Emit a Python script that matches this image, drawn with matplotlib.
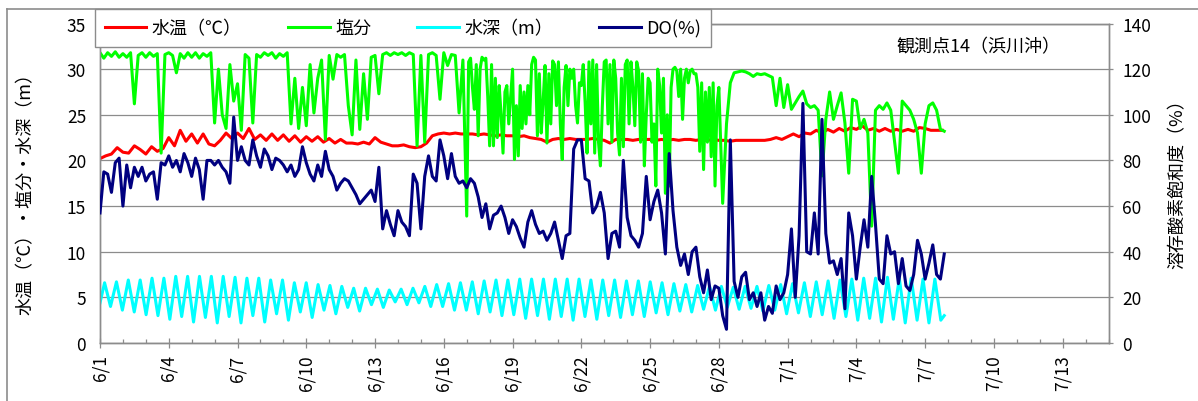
import numpy as np
import matplotlib
matplotlib.use("Agg")
import matplotlib.pyplot as plt
from matplotlib.lines import Line2D

plt.rcParams['font.family'] = ['Noto Sans CJK JP', 'DejaVu Sans']

# ---------------- data ----------------
# x axis: days since 6/1 (0 = 6/1 00:00)
tick_days = [0, 3, 6, 9, 12, 15, 18, 21, 24, 27, 30, 33, 36, 39, 42]
tick_labels = ['6/1', '6/4', '6/7', '6/10', '6/13', '6/16', '6/19', '6/22',
               '6/25', '6/28', '7/1', '7/4', '7/7', '7/10', '7/13']
x_max_day = 44

# water temperature (deg C), every 6 hours from 6/1 00:00
temp_step_h = 6
water_temp = [
    20.2, 20.5, 20.7, 21.4,  20.9, 20.8, 21.6, 21.2,  20.7, 21.5, 21.0, 21.3,
    22.5, 21.6, 23.3, 22.1,  22.9, 21.9, 22.9, 21.8,  21.6, 22.2, 23.0, 22.4,
    23.0, 22.4, 23.5, 22.3,  22.8, 22.2, 22.9, 22.2,  22.8, 22.1, 22.7, 22.0,
    22.6, 22.1, 22.6, 22.0,  22.4, 21.9, 22.3, 21.9,  21.9, 21.8, 22.0, 21.8,
    22.5, 22.0, 21.8, 21.6,  21.6, 21.7, 21.5, 21.4,  21.5, 21.9, 22.7, 22.9,
    23.0, 22.9, 23.0, 22.9,  22.9, 22.9, 22.8, 22.9,  22.8, 22.7, 22.8, 22.7,
    22.7, 22.6, 22.7, 22.5,  22.4, 22.3, 22.0, 22.3,  22.4, 22.3, 22.4, 22.3,
    22.3, 22.3, 22.4, 22.3,  22.2, 21.9, 22.3, 22.3,  22.3, 22.2, 22.3, 22.3,
    22.3, 22.2, 22.3, 22.2,  22.3, 22.2, 22.3, 22.3,  22.2, 22.3, 22.2, 22.3,
    22.2, 22.2, 22.1, 22.2,  22.2, 22.2, 22.2, 22.2,  22.2, 22.3, 22.5, 22.3,
    22.6, 22.9, 22.6, 23.0,  22.9, 23.3, 23.0, 23.4,  23.1, 23.5, 23.2, 23.6,
    23.4, 23.8, 23.3, 23.5,  23.2, 23.5, 23.2, 23.4,  23.2, 23.4, 23.2, 23.6,
    23.5, 23.3, 23.3, 23.3,
]

# salinity, part 1: every 4 hours from 6/1 00:00 (days 0-15)
sal1_start_day, sal1_step_h = 0, 4
salinity_1 = [
    31.8, 31.2, 31.8, 31.4, 31.9, 31.3,
    31.7, 31.3, 31.8, 26.2, 31.5, 31.8,
    31.3, 31.8, 31.4, 31.7, 20.8, 31.6,
    31.8, 31.5, 29.6, 31.7, 31.2, 31.8,
    31.3, 31.8, 31.2, 31.7, 31.4, 31.8,
    24.1, 30.0, 25.0, 23.5, 30.5, 26.5,
    28.4, 23.3, 31.6, 31.2, 24.1, 31.6,
    31.3, 31.8, 31.5, 31.8, 31.2, 31.7,
    31.4, 31.8, 24.0, 29.0, 23.5, 28.0,
    23.8, 30.5, 25.2, 29.0, 31.0, 22.3,
    31.5, 28.9, 31.6, 31.3, 31.6, 26.0,
    22.8, 31.0, 23.4, 29.5, 24.5, 31.3,
    31.5, 27.3, 31.6, 31.8, 31.5, 31.8,
    31.6, 31.8, 31.5, 31.8, 31.6, 21.6,
    31.5, 22.0, 31.6, 31.8, 31.5, 26.7,
    31.8, 30.4, 31.6, 31.5, 25.2, 31.0,
]
# salinity, part 2: every 2 hours from 6/17 00:00 (days 16-26, fluctuating period)
sal2_start_day, sal2_step_h = 16, 2
salinity_2 = [
    13.9, 30.8, 31.2, 28.0, 25.6, 30.5, 22.7, 30.0, 31.3, 31.0, 31.2, 27.0,
    21.6, 30.5, 21.6, 29.0, 22.5, 28.2, 25.0, 20.8, 27.5, 28.2, 24.0, 27.0,
    30.0, 20.1, 26.0, 20.5, 28.2, 23.5, 27.5, 24.0, 28.2, 25.0, 30.5, 31.3,
    31.0, 22.7, 29.5, 23.0, 26.5, 30.4, 21.9, 29.5, 24.0, 30.9, 30.5, 26.0,
    30.8, 24.0, 20.1, 28.0, 30.4, 26.0, 30.0, 29.0, 30.0, 26.0, 24.1, 28.5,
    28.2, 30.5, 26.3, 20.8, 30.8, 24.0, 31.0, 20.8, 30.5, 22.0, 19.4, 26.0,
    30.8, 31.0, 24.0, 30.5, 22.0, 31.0, 29.0, 23.0, 20.6, 29.0, 21.5, 30.5,
    31.0, 24.0, 30.8, 28.0, 23.8, 30.8, 29.8, 22.0, 29.5, 19.4, 25.0, 29.0,
    28.5, 22.0, 24.0, 17.2, 30.0, 28.2, 23.0, 29.0, 16.4, 25.0, 17.2, 28.0,
    30.0, 30.2, 29.8, 27.0, 30.0, 24.5, 29.0, 30.0, 28.5, 29.8, 30.0, 29.5,
    29.5, 28.0, 21.0, 28.5, 19.0, 27.5, 22.0, 28.0, 20.4, 28.5, 17.2, 26.0,
]
# salinity, part 3: every 4 hours from 6/28 00:00 (days 27-36)
sal3_start_day, sal3_step_h = 27, 4
salinity_3 = [
    28.0, 15.3, 24.0, 28.5, 29.6, 29.7,
    29.8, 29.7, 29.5, 29.2, 29.5, 29.4,
    29.5, 29.3, 29.1, 26.0, 29.0, 25.8,
    28.3, 25.6, 26.3, 27.0, 27.6, 26.2,
    25.8, 26.0, 25.5, 18.3, 24.5, 27.5,
    24.5, 26.0, 27.4, 24.1, 18.6, 26.7,
    26.5, 23.5, 24.5, 23.0, 12.8, 25.5,
    26.0, 25.6, 26.3, 25.5, 22.0, 18.6,
    26.5, 26.0, 25.5, 24.5, 23.0, 18.6,
    24.0, 26.0, 26.3, 25.5, 23.4, 23.2,
]

# dissolved oxygen saturation (%), every 4 hours from 6/1 00:00
do_step_h = 4
do_sat = [
    57, 75, 74, 66, 79, 81,
    60, 78, 68, 77, 73, 77,
    71, 74, 75, 63, 79, 78,
    82, 77, 80, 75, 83, 79,
    73, 81, 76, 63, 80, 80,
    78, 80, 77, 75, 70, 99,
    80, 86, 80, 78, 89, 82,
    77, 85, 82, 76, 81, 80,
    78, 75, 78, 73, 76, 86,
    79, 74, 71, 78, 73, 84,
    76, 73, 67, 70, 72, 71,
    68, 65, 61, 63, 65, 67,
    62, 77, 50, 58, 52, 47,
    58, 53, 51, 47, 74, 70,
    50, 73, 82, 73, 71, 89,
    82, 72, 83, 73, 70, 71,
    68, 72, 70, 64, 55, 61,
    50, 56, 57, 60, 55, 48,
    54, 51, 46, 42, 53, 58,
    52, 48, 49, 45, 48, 53,
    45, 37, 47, 48, 85, 89,
    89, 72, 71, 57, 60, 66,
    57, 37, 48, 49, 42, 80,
    55, 47, 45, 42, 48, 73,
    54, 62, 67, 57, 39, 83,
    58, 42, 34, 39, 30, 40,
    42, 29, 22, 32, 19, 25,
    24, 12, 6, 89, 27, 20,
    29, 31, 19, 22, 16, 22,
    10, 16, 13, 25, 19, 22,
    30, 50, 20, 47, 105, 40,
    39, 57, 39, 98, 48, 35,
    36, 30, 37, 15, 57, 47,
    28, 42, 54, 42, 73, 52,
    28, 26, 47, 39, 40, 26,
    37, 25, 23, 30, 45, 39,
    28, 35, 43, 30, 28, 39,
]

# water depth (m): successive tidal high / low waters
depth_first = 4.4          # value at 6/1 00:00
depth_last = 3.0           # value at end of record
tide_first_high_h = 4.8    # hours after 6/1 00:00 of first high water
tide_half_period_h = 6.21  # time between high and low water
depth_high = [
    6.6, 6.7, 6.9, 6.9, 7.1, 7.1, 7.3, 7.3, 7.3, 7.3,
    7.3, 7.2, 7.1, 7.1, 6.9, 6.9, 6.6, 6.6, 6.4, 6.3,
    6.2, 6.0, 6.0, 5.9, 5.8, 5.9, 6.0, 6.2, 6.4, 6.5,
    6.6, 6.7, 6.8, 6.9, 6.9, 7.0, 7.0, 7.0, 7.0, 7.0,
    7.0, 6.9, 6.9, 6.9, 6.8, 6.8, 6.7, 6.6, 6.5, 6.4,
    6.3, 6.2, 6.2, 6.1, 6.2, 6.2, 6.3, 6.4, 6.5, 6.6,
    6.7, 6.8, 6.9, 7.0, 7.1, 7.1, 7.2, 7.1, 7.1, 7.0,
    7.0,
]
depth_low = [
    4.0, 3.6, 3.4, 3.1, 3.0, 2.6, 2.9, 2.3, 2.8, 2.2,
    2.9, 2.2, 3.0, 2.3, 3.2, 2.5, 3.4, 2.8, 3.6, 3.2,
    3.9, 3.5, 4.2, 3.9, 4.5, 4.2, 4.4, 4.0, 4.0, 3.6,
    3.6, 3.2, 3.4, 3.0, 3.1, 2.7, 3.0, 2.6, 2.9, 2.5,
    2.9, 2.6, 3.0, 2.8, 3.1, 2.9, 3.3, 3.1, 3.5, 3.4,
    3.7, 3.6, 3.9, 3.7, 3.8, 3.5, 3.6, 3.2, 3.3, 2.9,
    3.1, 2.7, 2.9, 2.5, 2.7, 2.3, 2.6, 2.2, 2.5, 2.2,
    2.5,
]

# ---------------- build time axes ----------------
t_temp = np.arange(len(water_temp)) * temp_step_h / 24.0
t_do = np.arange(len(do_sat)) * do_step_h / 24.0
t_end = t_do[-1]

t_sal, salinity = [], []
for start, step, vals in ((sal1_start_day, sal1_step_h, salinity_1),
                          (sal2_start_day, sal2_step_h, salinity_2),
                          (sal3_start_day, sal3_step_h, salinity_3)):
    t_sal.extend(start + np.arange(len(vals)) * step / 24.0)
    salinity.extend(vals)

ext_vals = [depth_first]
ext_t = [0.0]
for i, (hi, lo) in enumerate(zip(depth_high, depth_low)):
    th = (tide_first_high_h + 2 * i * tide_half_period_h) / 24.0
    ext_t += [th, th + tide_half_period_h / 24.0]
    ext_vals += [hi, lo]
ext_t.append(t_end)
ext_vals.append(depth_last)

# ---------------- figure ----------------
W, H = 1198, 402
fig = plt.figure(figsize=(W / 100, H / 100), dpi=100)
ax_l, ax_r, ax_t, ax_b = 100, 1108.5, 24.5, 344
ax = fig.add_axes([ax_l / W, 1 - ax_b / H, (ax_r - ax_l) / W, (ax_b - ax_t) / H])
ax2 = ax.twinx()

grey = '#8c8c8c'
lw = 2.2
ax.plot(t_temp, water_temp, color='#ff0000', lw=lw, label='水温（℃）', zorder=3)
ax.plot(t_sal, salinity, color='#00ff00', lw=lw, label='塩分', zorder=4)
ax.plot(ext_t, ext_vals, color='#00ffff', lw=lw, label='水深（m）', zorder=5)
ax2.plot(t_do, do_sat, color='#000080', lw=lw, label='DO(%)', zorder=3)

ax.set_xlim(0, x_max_day)
ax.set_ylim(0, 35)
ax2.set_ylim(0, 140)
ax.set_yticks(np.arange(0, 36, 5))
ax2.set_yticks(np.arange(0, 141, 20))
ax.set_xticks(tick_days)
ax.set_xticklabels(tick_labels, rotation=90)
ax.set_xticks(np.arange(0, x_max_day + 1, 1), minor=True)

ax.grid(axis='y', color=grey, lw=0.9, zorder=0)
ax.set_axisbelow(True)

for a in (ax, ax2):
    for s in a.spines.values():
        s.set_color(grey)
        s.set_linewidth(1.0)

ax.tick_params(axis='x', which='major', direction='inout', length=6.5, width=0.9,
               color=grey, labelsize=12.5, pad=5)
ax.tick_params(axis='x', which='minor', direction='in', length=2.8, width=0.9, color=grey)
ax.tick_params(axis='y', length=0, labelsize=12.5, pad=10)
ax2.tick_params(axis='y', direction='out', length=3, width=0.9, color=grey,
                labelsize=12.5, pad=7)

fig.text(26 / W, 1 - 190 / H, '水温（℃）・塩分・水深（m）', rotation=90,
         ha='center', va='center', fontsize=13)
fig.text(1178 / W, 1 - 180 / H, '溶存酸素飽和度（%）', rotation=90,
         ha='center', va='center', fontsize=13)
fig.text(978 / W, 1 - 47 / H, '観測点14（浜川沖）', ha='center', va='center', fontsize=13)

# outer chart border (cropped at right/bottom)
fig.add_artist(Line2D([7 / W, 7 / W], [0, 1 - 10 / H], color=grey, lw=1.2,
                      transform=fig.transFigure))
fig.add_artist(Line2D([7 / W, 1], [1 - 10 / H, 1 - 10 / H], color=grey, lw=1.2,
                      transform=fig.transFigure))

h1, l1 = ax.get_legend_handles_labels()
h2, l2 = ax2.get_legend_handles_labels()
leg = fig.legend(h1 + h2, l1 + l2, loc='upper left',
                 bbox_to_anchor=(95 / W, 1 - 53 / H, 616 / W, 43 / H),
                 mode='expand', ncol=4, fontsize=13, frameon=True, fancybox=False,
                 edgecolor=grey, framealpha=1, borderaxespad=0, handlelength=2.3,
                 handletextpad=0.3, borderpad=0.55, columnspacing=2.0)
leg.get_frame().set_linewidth(1.0)

fig.savefig('out.png', dpi=100)
